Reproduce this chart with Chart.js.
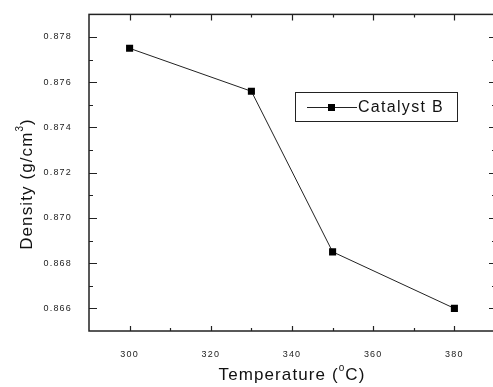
<!DOCTYPE html>
<html>
<head>
<meta charset="utf-8">
<script src="https://cdn.jsdelivr.net/npm/chart.js@4"></script>
<style>
  html, body { margin: 0; padding: 0; background: #fff; overflow: hidden; }
  #wrap { width: 500px; height: 387px; }
</style>
</head>
<body>
<div id="wrap"><canvas id="densityChart" width="500" height="387"></canvas></div>
<script>
// data
const temps = [300, 330, 350, 380];
const density = [0.8775, 0.8756, 0.8685, 0.8660];
const xTicks = [300, 320, 340, 360, 380];
const xMinor = [310, 330, 350, 370];
const yTicks = [0.866, 0.868, 0.870, 0.872, 0.874, 0.876, 0.878];
const yMinor = [0.867, 0.869, 0.871, 0.873, 0.875, 0.877];
const seriesName = "Catalyst B";

const FONT = '"Liberation Sans", Arial, sans-serif';
Chart.defaults.font.family = FONT;

// text pieces, some raised as superscripts
function partsWidth(ctx, parts, size, supSize) {
  let w = 0;
  parts.forEach(p => {
    ctx.font = (p.sup ? supSize : size) + "px " + FONT;
    w += ctx.measureText(p.t).width;
  });
  return w;
}
function drawParts(ctx, parts, x, y, size, supSize) {
  parts.forEach(p => {
    ctx.font = (p.sup ? supSize : size) + "px " + FONT;
    ctx.fillText(p.t, x, p.sup ? y - size * 0.42 : y);
    x += ctx.measureText(p.t).width;
  });
}

const spacing = {
  id: "spacing",
  beforeLayout(chart) { chart.ctx.letterSpacing = "1.2px"; },
  beforeDraw(chart) { chart.ctx.letterSpacing = "1.2px"; }
};

const frame = {
  id: "frame",
  afterDraw(chart) {
    const { ctx, chartArea: a, scales: { x, y } } = chart;
    ctx.save();
    ctx.strokeStyle = "#222";
    ctx.lineWidth = 1.5;
    ctx.strokeRect(a.left, a.top, a.right - a.left, a.bottom - a.top);

    ctx.lineWidth = 1.2;
    ctx.beginPath();
    const tickX = (list, bottomLen, topLen) => list.forEach(v => {
      const px = Math.round(x.getPixelForValue(v)) + 0.5;
      ctx.moveTo(px, a.bottom); ctx.lineTo(px, a.bottom - bottomLen);
      ctx.moveTo(px, a.top); ctx.lineTo(px, a.top + topLen);
    });
    const tickY = (list, leftLen, rightLen) => list.forEach(v => {
      const py = Math.round(y.getPixelForValue(v)) + 0.5;
      ctx.moveTo(a.left, py); ctx.lineTo(a.left + leftLen, py);
      ctx.moveTo(a.right, py); ctx.lineTo(a.right - rightLen, py);
    });
    tickX(xTicks, 5, 6);
    tickX(xMinor, 3, 3);
    tickY(yTicks, 8, 6);
    tickY(yMinor, 4, 3);
    ctx.stroke();

    // axis titles
    ctx.fillStyle = "#111";
    ctx.textBaseline = "middle";
    ctx.textAlign = "left";
    ctx.letterSpacing = "1.1px";
    const xt = [{ t: "Temperature (" }, { t: "o", sup: true }, { t: "C)" }];
    let w = partsWidth(ctx, xt, 17, 10);
    drawParts(ctx, xt, 292 - w / 2, 375, 17, 10);

    const yt = [{ t: "Density (g/cm" }, { t: "3", sup: true }, { t: ")" }];
    ctx.save();
    ctx.translate(27, 184);
    ctx.rotate(-Math.PI / 2);
    w = partsWidth(ctx, yt, 17, 10);
    drawParts(ctx, yt, -w / 2, 0, 17, 10);
    ctx.restore();

    // legend box
    ctx.lineWidth = 1;
    ctx.strokeStyle = "#222";
    ctx.strokeRect(295.5, 92.5, 162, 29);
    ctx.beginPath();
    ctx.moveTo(307, 107.5); ctx.lineTo(357, 107.5);
    ctx.stroke();
    ctx.fillStyle = "#000";
    ctx.fillRect(328, 104, 7, 7);
    ctx.fillStyle = "#111";
    ctx.letterSpacing = "1.3px";
    ctx.font = "16px " + FONT;
    ctx.fillText(seriesName, 358, 107.5);
    ctx.restore();
  }
};

const ctx = document.getElementById("densityChart").getContext("2d");
const chart = new Chart(ctx, {
  type: "line",
  data: {
    datasets: [{
      label: seriesName,
      data: temps.map((t, i) => ({ x: t, y: density[i] })),
      borderColor: "#222",
      borderWidth: 1,
      backgroundColor: "#000",
      pointStyle: "rect",
      pointRadius: 5,
      pointBorderWidth: 0,
      tension: 0
    }]
  },
  options: {
    responsive: false,
    animation: false,
    layout: { padding: { top: 8, right: 3, left: 0, bottom: 0 } },
    plugins: { legend: { display: false }, tooltip: { enabled: false } },
    scales: {
      x: {
        type: "linear",
        min: 290,
        max: 390,
        grid: { display: false },
        border: { display: false },
        afterBuildTicks: s => { s.ticks = xTicks.map(v => ({ value: v })); },
        afterFit: s => { s.height = 56; },
        ticks: { color: "#222", font: { size: 9 }, padding: 10, maxRotation: 0 }
      },
      y: {
        min: 0.865,
        max: 0.879,
        grid: { display: false },
        border: { display: false },
        afterBuildTicks: s => { s.ticks = yTicks.map(v => ({ value: v })); },
        afterFit: s => { s.width = 89; },
        ticks: { color: "#222", font: { size: 9 }, padding: 9, callback: v => v.toFixed(3) }
      }
    }
  },
  plugins: [spacing, frame]
});
</script>
</body>
</html>
